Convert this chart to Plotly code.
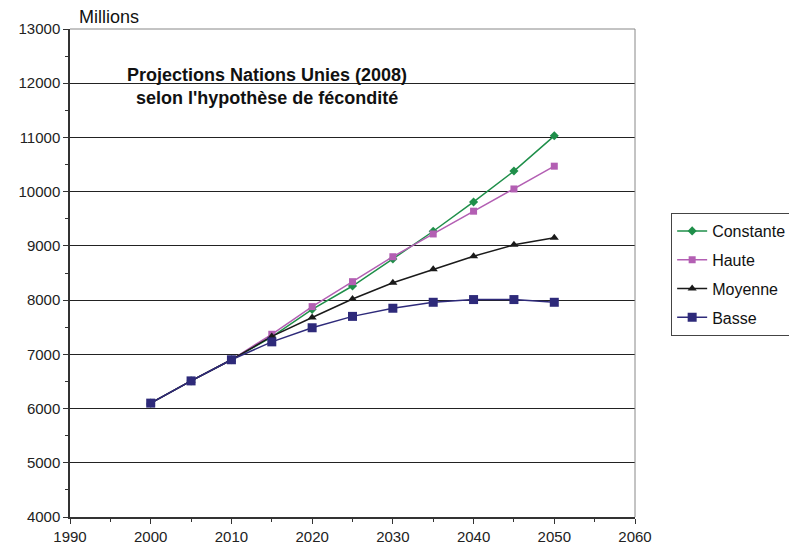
import plotly.graph_objects as go

annees = [2000, 2005, 2010, 2015, 2020, 2025, 2030, 2035, 2040, 2045, 2050]
constante = [6100, 6510, 6900, 7320, 7830, 8260, 8760, 9270, 9810, 10380, 11030]
haute = [6100, 6510, 6900, 7370, 7880, 8340, 8800, 9220, 9640, 10050, 10470]
moyenne = [6100, 6510, 6900, 7330, 7680, 8020, 8320, 8570, 8810, 9020, 9150]
basse = [6100, 6510, 6900, 7230, 7490, 7700, 7850, 7960, 8010, 8010, 7960]

series = [
    ("Constante", constante, "#1f8f4a", "diamond", 7),
    ("Haute", haute, "#b35fb3", "square", 7),
    ("Moyenne", moyenne, "#1a1a1a", "triangle-up", 8),
    ("Basse", basse, "#2e2a7a", "square", 9),
]

fig = go.Figure()
for nom, valeurs, couleur, symbole, taille in series:
    fig.add_trace(go.Scatter(
        x=annees, y=valeurs, name=nom, legendgroup=nom, mode="lines+markers",
        line=dict(color=couleur, width=1.5),
        marker=dict(color=couleur, symbol=symbole, size=taille),
    ))

# la page a une marge de 8 px autour du graphique
axis_font = dict(family="Arial, Liberation Sans", size=15, color="#222")
fig.update_layout(
    width=797, height=549,
    margin=dict(l=62, r=170, t=21, b=40),
    paper_bgcolor="white", plot_bgcolor="white",
    font=dict(family="Arial, Liberation Sans", color="#111"),
    showlegend=True,
    legend=dict(
        x=1.064, y=0.623, xanchor="left", yanchor="top",
        bordercolor="#444", borderwidth=1, bgcolor="white",
        font=dict(size=16, color="#111"), tracegroupgap=5,
    ),
    xaxis=dict(
        range=[1990, 2060], dtick=10, tick0=1990,
        showgrid=False, zeroline=False,
        showline=True, linecolor="#333", linewidth=1.5,
        ticks="outside", ticklen=5, tickcolor="#333",
        minor=dict(dtick=5, ticks="outside", ticklen=3, tickcolor="#333"),
        tickfont=axis_font,
    ),
    yaxis=dict(
        range=[4000, 13000], dtick=1000, tickformat="d",
        showgrid=True, gridcolor="#222", gridwidth=1,
        zeroline=False,
        showline=True, linecolor="#333", linewidth=1.5,
        ticks="outside", ticklen=5, tickcolor="#333",
        minor=dict(dtick=500, ticks="outside", ticklen=3, tickcolor="#333", showgrid=False),
        tickfont=axis_font,
    ),
    shapes=[
        dict(type="line", xref="paper", yref="paper", x0=1, x1=1, y0=0, y1=1,
             line=dict(color="#888", width=1)),
        dict(type="line", xref="paper", yref="paper", x0=0, x1=1, y0=1, y1=1,
             line=dict(color="#888", width=1)),
    ],
    annotations=[
        dict(text="Millions", xref="paper", yref="paper", x=0.012, y=1.0,
             xanchor="left", yanchor="bottom", showarrow=False,
             font=dict(size=18, color="#111")),
        dict(text="<b>Projections Nations Unies (2008)<br>selon l'hypothèse de fécondité</b>",
             xref="paper", yref="paper", x=0.348, y=0.93,
             xanchor="center", yanchor="top", showarrow=False,
             font=dict(size=18, color="#111")),
    ],
)

fig.write_html("out.html")
